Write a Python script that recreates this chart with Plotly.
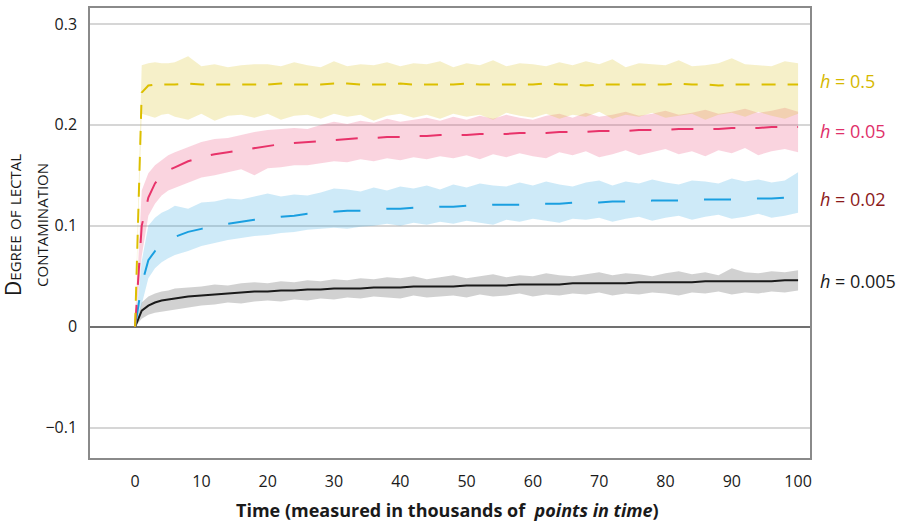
import plotly.graph_objects as go

# time in thousands of points in time
T = [0, 1, 2, 3, 4, 5, 6,
     8, 10, 12, 14, 16, 18, 20, 22, 24, 26,
     28, 30, 32, 34, 36, 38, 40, 42, 44, 46,
     48, 50, 52, 54, 56, 58, 60, 62, 64, 66,
     68, 70, 72, 74, 76, 78, 80, 82, 84, 86,
     88, 90, 92, 94, 96, 98, 100]

# h = 0.5
Y05_MEAN = [0, .232, .239, .240, .240, .240, .240,
            .241, .240, .240, .240, .240, .240, .240, .241, .240, .240,
            .240, .241, .241, .240, .240, .240, .241, .240, .240, .240,
            .240, .241, .240, .240, .240, .240, .240, .241, .240, .240,
            .239, .240, .240, .240, .240, .240, .240, .241, .240, .240,
            .239, .240, .240, .240, .240, .240, .240]
Y05_HI = [0, .259, .261, .262, .261, .261, .262,
          .268, .258, .260, .257, .259, .260, .260, .258, .262, .259,
          .257, .263, .258, .260, .259, .262, .258, .261, .260, .263,
          .257, .261, .259, .264, .258, .261, .260, .258, .262, .259,
          .263, .260, .265, .257, .261, .260, .259, .264, .258, .259,
          .261, .266, .260, .259, .258, .263, .261]
Y05_LO = [0, .211, .209, .207, .210, .211, .208,
          .205, .211, .204, .209, .210, .207, .211, .205, .209, .210,
          .206, .211, .208, .210, .204, .209, .211, .207, .210, .206,
          .211, .208, .210, .205, .212, .209, .207, .211, .206, .210,
          .208, .213, .206, .210, .208, .212, .207, .209, .211, .205,
          .210, .212, .208, .213, .209, .206, .211]

# h = 0.05
Y005_MEAN = [0, .100, .128, .142, .150, .155, .158,
             .164, .168, .171, .173, .175, .177, .179, .181, .182, .183,
             .184, .185, .186, .187, .187, .188, .188, .189, .189, .190,
             .190, .190, .191, .191, .191, .192, .192, .192, .193, .193,
             .193, .194, .194, .194, .195, .195, .195, .196, .196, .196,
             .196, .197, .197, .197, .198, .198, .198]
Y005_HI = [0, .135, .152, .160, .165, .170, .173,
           .178, .183, .186, .187, .190, .193, .195, .196, .197, .196,
           .200, .203, .201, .204, .202, .206, .203, .205, .207, .204,
           .208, .205, .209, .206, .210, .207, .205, .209, .211, .207,
           .212, .208, .210, .213, .209, .211, .214, .210, .212, .215,
           .211, .213, .216, .212, .214, .217, .213]
Y005_LO = [0, .070, .110, .122, .130, .135, .138,
           .143, .148, .150, .153, .156, .150, .157, .158, .160, .160,
           .162, .164, .163, .166, .164, .167, .165, .168, .166, .169,
           .167, .170, .166, .171, .168, .172, .169, .167, .173, .170,
           .174, .168, .171, .175, .170, .173, .176, .171, .174, .169,
           .175, .172, .177, .170, .174, .176, .173]

# h = 0.02
Y002_MEAN = [0, .042, .066, .075, .081, .086, .089,
             .094, .097, .100, .102, .104, .106, .107, .109, .110, .112,
             .113, .114, .115, .115, .116, .117, .117, .118, .118, .119,
             .119, .120, .120, .121, .121, .121, .122, .122, .122, .123,
             .123, .123, .124, .124, .124, .125, .125, .125, .126, .126,
             .126, .126, .127, .127, .127, .128, .128]
Y002_HI = [0, .065, .100, .108, .113, .116, .120,
           .117, .123, .124, .127, .126, .129, .132, .129, .131, .130,
           .133, .137, .136, .134, .138, .135, .139, .137, .140, .136,
           .141, .138, .142, .140, .139, .143, .140, .144, .141, .139,
           .143, .145, .140, .144, .142, .146, .143, .141, .145, .144,
           .142, .147, .144, .146, .143, .145, .153]
Y002_LO = [0, .022, .048, .058, .064, .068, .071,
           .075, .080, .083, .086, .088, .090, .091, .093, .094, .096,
           .097, .098, .097, .099, .100, .102, .100, .103, .101, .104,
           .102, .105, .103, .101, .106, .104, .107, .105, .103, .107,
           .106, .108, .104, .107, .109, .105, .108, .110, .106, .109,
           .111, .107, .109, .112, .108, .110, .113]

# h = 0.005
Y0005_MEAN = [0, .016, .021, .024, .026, .027, .028,
              .030, .031, .032, .033, .034, .035, .035, .036, .036, .037,
              .037, .038, .038, .038, .039, .039, .039, .040, .040, .040,
              .040, .041, .041, .041, .041, .042, .042, .042, .042, .043,
              .043, .043, .043, .043, .044, .044, .044, .044, .044, .045,
              .045, .045, .045, .045, .045, .046, .046]
Y0005_HI = [0, .024, .030, .033, .035, .036, .038,
            .039, .040, .042, .041, .043, .044, .043, .045, .044, .046,
            .045, .047, .046, .048, .047, .049, .048, .050, .047, .049,
            .051, .048, .050, .052, .049, .051, .050, .053, .051, .050,
            .052, .054, .051, .053, .052, .050, .053, .055, .052, .054,
            .051, .058, .054, .053, .055, .054, .056]
Y0005_LO = [0, .008, .012, .014, .015, .016, .017,
            .019, .021, .022, .024, .023, .025, .026, .025, .027, .026,
            .028, .027, .029, .028, .030, .029, .028, .031, .029, .030,
            .031, .029, .032, .030, .031, .033, .030, .032, .031, .033,
            .032, .034, .031, .033, .032, .034, .033, .031, .034, .033,
            .035, .032, .034, .033, .035, .034, .036]

X_TICKS = [0, 10, 20, 30, 40, 50, 60, 70, 80, 90, 100]
Y_TICKS = [-0.1, 0, 0.1, 0.2, 0.3]
Y_TICK_TEXT = ["\u22120.1", "0", "0.1", "0.2", "0.3"]

LABELS = ["<i>h</i> = 0.5", "<i>h</i> = 0.05", "<i>h</i> = 0.02", "<i>h</i> = 0.005"]
LABEL_Y = [0.243, 0.194, 0.127, 0.045]
LABEL_COLORS = ["#d6b800", "#e0306a", "#8c1a1a", "#1a1a1a"]

FONT = "Open Sans"

series = [
    # (mean, hi, lo, line colour, fill colour, dash)
    (Y0005_MEAN, Y0005_HI, Y0005_LO, "#1a1a1a", "rgba(0,0,0,0.18)", "solid"),
    (Y002_MEAN, Y002_HI, Y002_LO, "#1a9fe0", "rgba(30,160,225,0.22)", "27px,26px"),
    (Y005_MEAN, Y005_HI, Y005_LO, "#e8336a", "rgba(232,60,110,0.22)", "22px,20px"),
    (Y05_MEAN, Y05_HI, Y05_LO, "#dcbf00", "rgba(220,195,40,0.25)", "14px,12px"),
]

fig = go.Figure()

for mean, hi, lo, lc, fc, dash in series:
    fig.add_trace(go.Scatter(
        x=T + T[::-1], y=hi + lo[::-1], fill="toself", fillcolor=fc,
        line=dict(width=0), mode="lines", hoverinfo="skip", showlegend=False))

for mean, hi, lo, lc, fc, dash in series:
    fig.add_trace(go.Scatter(
        x=T, y=mean, mode="lines", showlegend=False,
        line=dict(color=lc, width=2, dash=dash)))

for txt, yv, col in zip(LABELS, LABEL_Y, LABEL_COLORS):
    fig.add_annotation(x=1.011, xref="paper", y=yv, yref="y", text=txt,
                       showarrow=False, xanchor="left", yanchor="middle",
                       font=dict(family=FONT, size=18, color=col))

fig.add_annotation(x=-0.0875, xref="paper", y=0.518, yref="paper",
                   text="Degree of lectal<br>contamination", textangle=-90,
                   showarrow=False, xanchor="center", yanchor="middle",
                   font=dict(family=FONT, size=21, color="#1a1a1a", variant="small-caps"))

fig.add_annotation(x=0.4965, xref="paper", y=-0.115, yref="paper",
                   text="<b>Time (measured in thousands of  <i>points in time</i>)</b>",
                   showarrow=False, xanchor="center", yanchor="middle",
                   font=dict(family=FONT, size=18, color="#1a1a1a"))

fig.update_xaxes(range=[-6.8, 101.8], tickvals=X_TICKS, showgrid=False,
                 zeroline=False, showline=True, mirror=True, linecolor="#8a8a8a",
                 linewidth=1.5, ticks="", ticklabelstandoff=8,
                 tickfont=dict(family=FONT, size=16, color="#1a1a1a"))
fig.update_yaxes(range=[-0.130, 0.3158], tickvals=Y_TICKS, ticktext=Y_TICK_TEXT,
                 showgrid=True, gridcolor="#d6d6d6", gridwidth=1.5,
                 zeroline=True, zerolinecolor="#707070", zerolinewidth=1.5,
                 showline=True, mirror=True, linecolor="#8a8a8a", linewidth=1.5,
                 ticks="", ticklabelstandoff=8,
                 tickfont=dict(family=FONT, size=16, color="#1a1a1a"))

fig.update_layout(width=903, height=523, margin=dict(l=90, r=93, t=6, b=65),
                  plot_bgcolor="white", paper_bgcolor="white")

fig.write_html("out.html")
